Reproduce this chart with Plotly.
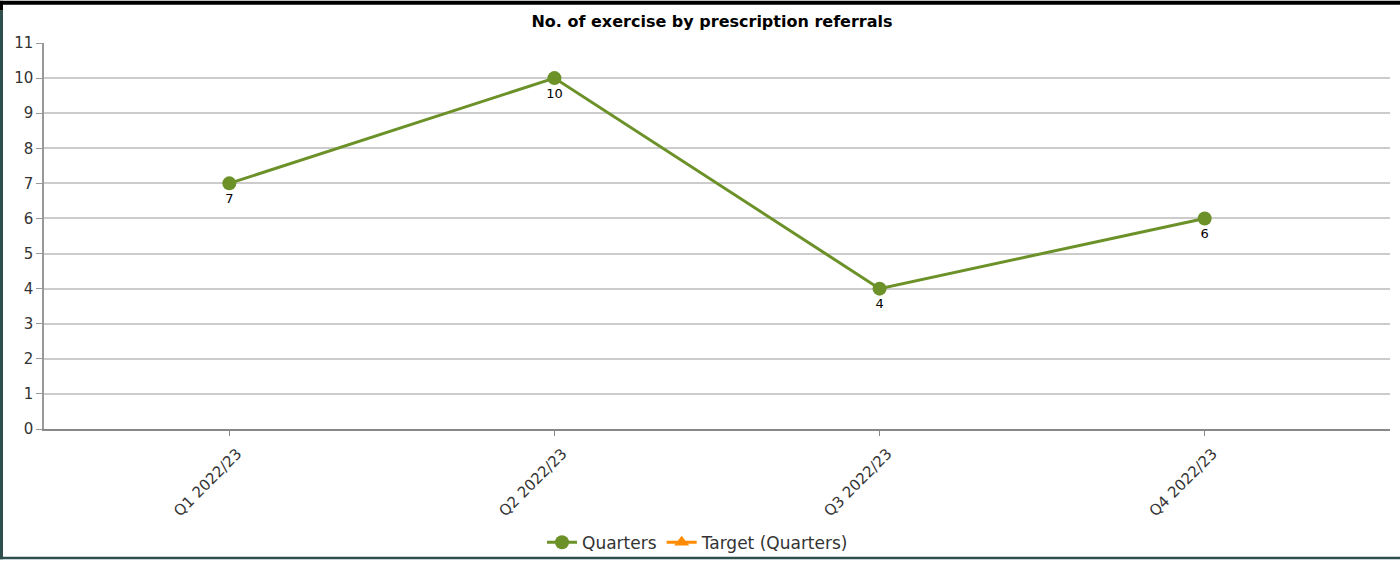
import plotly.graph_objects as go

# Quarterly referral counts
quarters = ["Q1 2022/23", "Q2 2022/23", "Q3 2022/23", "Q4 2022/23"]
referrals = [7, 10, 4, 6]
target = [None, None, None, None]

W, H = 1400, 570
ML, MR, MT, MB = 44, 10, 43, 133

green = "#6b9128"
orange = "#ff8c00"
frame = "#2f4f4f"
font_family = "DejaVu Sans, Verdana, sans-serif"

fig = go.Figure()

fig.add_trace(go.Scatter(
    x=quarters, y=referrals, name="Quarters",
    mode="lines+markers+text",
    line=dict(color=green, width=3),
    marker=dict(color=green, size=14, symbol="circle"),
    text=[str(v) for v in referrals],
    textposition="bottom center",
    textfont=dict(color="#000000", size=13, family=font_family),
    cliponaxis=False,
))

fig.add_trace(go.Scatter(
    x=quarters, y=target, name="Target (Quarters)",
    mode="lines+markers",
    line=dict(color=orange, width=3),
    marker=dict(color=orange, size=13, symbol="triangle-up"),
))

# Frame around the chart panel (pixel offsets converted to paper coords)
pw = W - ML - MR
ph = H - MT - MB
def px_x(p):
    return (p - ML) / pw
def px_y(p):
    return 1 - (p - MT) / ph

shapes = [
    dict(type="rect", xref="paper", yref="paper",
         x0=px_x(0), x1=px_x(W), y0=px_y(0), y1=px_y(4),
         fillcolor="#000000", line=dict(width=0), layer="above"),
    dict(type="rect", xref="paper", yref="paper",
         x0=px_x(0), x1=px_x(3), y0=px_y(0), y1=px_y(10),
         fillcolor="#000000", line=dict(width=0), layer="above"),
    dict(type="rect", xref="paper", yref="paper",
         x0=px_x(0), x1=px_x(3), y0=px_y(10), y1=px_y(H),
         fillcolor=frame, line=dict(width=0), layer="above"),
    dict(type="rect", xref="paper", yref="paper",
         x0=px_x(0), x1=px_x(W), y0=px_y(567.5), y1=px_y(H),
         fillcolor=frame, line=dict(width=0), layer="above"),
]

fig.update_layout(
    width=W, height=H,
    margin=dict(l=ML, r=MR, t=MT, b=MB),
    paper_bgcolor="white", plot_bgcolor="white",
    font=dict(family=font_family, size=14, color="#333333"),
    title=dict(text="<b>No. of exercise by prescription referrals</b>",
               x=px_x(712), xref="paper", xanchor="center",
               y=1 - 21 / H, yanchor="middle",
               font=dict(size=16, color="#000000", family=font_family)),
    showlegend=True,
    legend=dict(orientation="h", x=px_x(698), xanchor="center",
                y=px_y(553), yanchor="middle",
                font=dict(size=17, color="#333333", family=font_family),
                itemwidth=30, bgcolor="rgba(0,0,0,0)"),
    shapes=shapes,
)

fig.update_xaxes(
    type="category", range=[-0.57, 3.57],
    showgrid=False, showline=True, linecolor="#888888", linewidth=2,
    ticks="outside", ticklen=5, tickcolor="#888888",
    tickangle=-45, tickfont=dict(size=15, color="#333333"),
    ticklabelshift=8, ticklabelstandoff=3,
    zeroline=False, fixedrange=True,
)
fig.update_yaxes(
    range=[0, 11], dtick=1, tick0=0,
    showgrid=True, gridcolor="#cccccc", gridwidth=1.5,
    showline=True, linecolor="#999999", linewidth=1.5,
    ticks="outside", ticklen=6, tickcolor="#999999",
    tickfont=dict(size=15, color="#333333"),
    zeroline=False, fixedrange=True,
)

fig.write_html("out.html")
